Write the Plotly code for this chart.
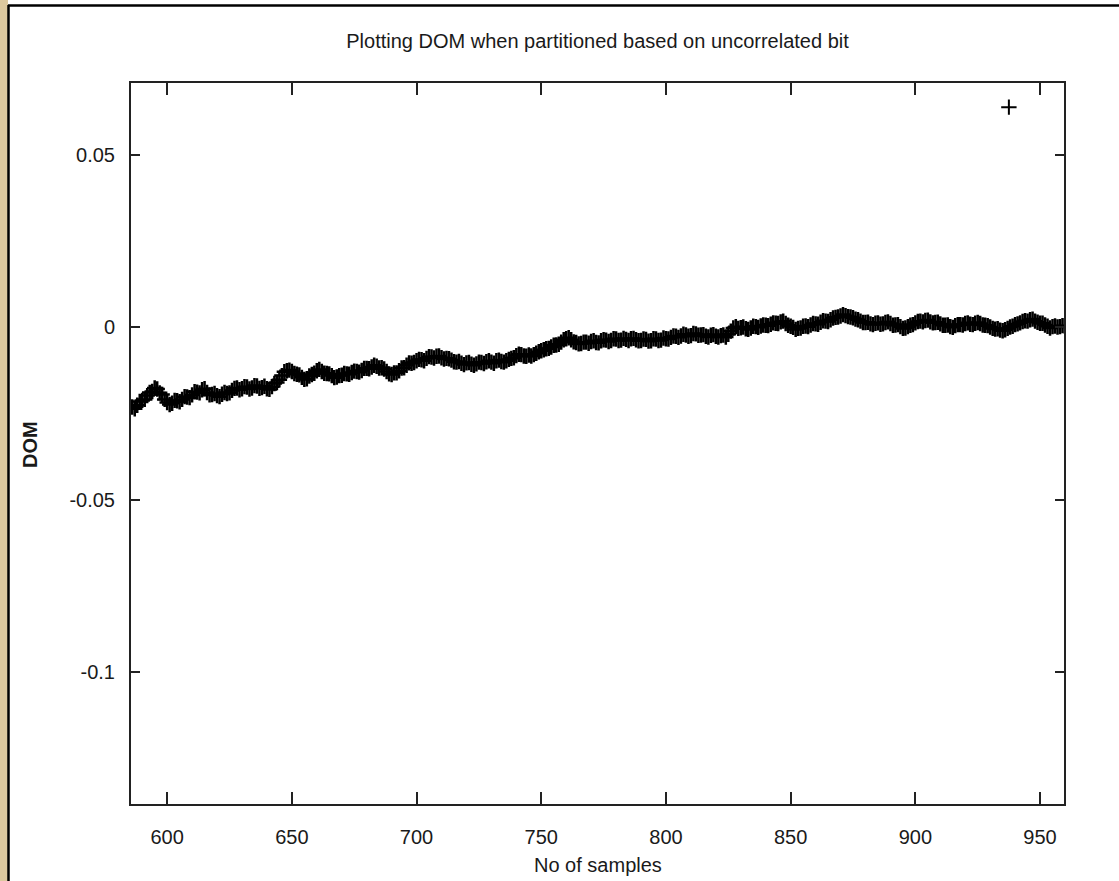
import plotly.graph_objects as go

# ---- data ----
samples = list(range(586, 961))
dom = [
    -0.0231, -0.0236, -0.0226, -0.0215, -0.0212, -0.0209, -0.0198, -0.0189, -0.0186, -0.0176,
    -0.0179, -0.0190, -0.0195, -0.0209, -0.0218, -0.0224, -0.0220, -0.0212, -0.0213, -0.0216,
    -0.0209, -0.0201, -0.0202, -0.0204, -0.0196, -0.0187, -0.0188, -0.0190, -0.0181, -0.0178,
    -0.0189, -0.0196, -0.0195, -0.0192, -0.0198, -0.0201, -0.0194, -0.0189, -0.0192, -0.0190,
    -0.0183, -0.0177, -0.0176, -0.0181, -0.0178, -0.0172, -0.0173, -0.0179, -0.0176, -0.0169,
    -0.0170, -0.0177, -0.0175, -0.0171, -0.0178, -0.0180, -0.0172, -0.0163, -0.0160, -0.0152,
    -0.0140, -0.0129, -0.0126, -0.0124, -0.0128, -0.0134, -0.0136, -0.0138, -0.0145, -0.0151,
    -0.0149, -0.0141, -0.0137, -0.0133, -0.0126, -0.0122, -0.0128, -0.0133, -0.0134, -0.0135,
    -0.0140, -0.0146, -0.0144, -0.0140, -0.0139, -0.0134, -0.0135, -0.0136, -0.0131, -0.0127,
    -0.0128, -0.0130, -0.0125, -0.0119, -0.0119, -0.0120, -0.0115, -0.0110, -0.0113, -0.0118,
    -0.0117, -0.0121, -0.0128, -0.0135, -0.0137, -0.0132, -0.0132, -0.0126, -0.0118, -0.0117,
    -0.0110, -0.0103, -0.0104, -0.0102, -0.0097, -0.0093, -0.0094, -0.0097, -0.0090, -0.0085,
    -0.0086, -0.0089, -0.0084, -0.0083, -0.0088, -0.0092, -0.0090, -0.0091, -0.0095, -0.0100,
    -0.0101, -0.0099, -0.0104, -0.0108, -0.0103, -0.0102, -0.0107, -0.0110, -0.0106, -0.0101,
    -0.0102, -0.0105, -0.0100, -0.0097, -0.0101, -0.0104, -0.0097, -0.0095, -0.0099, -0.0101,
    -0.0097, -0.0093, -0.0090, -0.0088, -0.0082, -0.0078, -0.0079, -0.0083, -0.0084, -0.0080,
    -0.0083, -0.0079, -0.0075, -0.0071, -0.0068, -0.0065, -0.0062, -0.0061, -0.0057, -0.0052,
    -0.0051, -0.0049, -0.0043, -0.0036, -0.0033, -0.0030, -0.0036, -0.0042, -0.0044, -0.0048,
    -0.0047, -0.0043, -0.0043, -0.0046, -0.0041, -0.0039, -0.0044, -0.0045, -0.0039, -0.0036,
    -0.0037, -0.0041, -0.0038, -0.0033, -0.0034, -0.0038, -0.0037, -0.0032, -0.0035, -0.0038,
    -0.0033, -0.0032, -0.0036, -0.0039, -0.0038, -0.0034, -0.0035, -0.0040, -0.0039, -0.0033,
    -0.0034, -0.0038, -0.0037, -0.0031, -0.0033, -0.0034, -0.0029, -0.0025, -0.0026, -0.0029,
    -0.0025, -0.0020, -0.0022, -0.0026, -0.0024, -0.0018, -0.0019, -0.0023, -0.0022, -0.0021,
    -0.0026, -0.0028, -0.0023, -0.0021, -0.0026, -0.0028, -0.0024, -0.0022, -0.0028, -0.0020,
    -0.0011, -0.0002, 0.0002, -0.0003, -0.0001, 0.0001, -0.0004, -0.0006, -0.0002, 0.0003,
    0.0002, 0.0000, 0.0004, 0.0007, 0.0006, 0.0005, 0.0009, 0.0013, 0.0012, 0.0011,
    0.0016, 0.0018, 0.0011, 0.0006, 0.0003, 0.0000, -0.0006, -0.0003, -0.0002, 0.0003,
    0.0004, 0.0002, 0.0007, 0.0011, 0.0010, 0.0009, 0.0015, 0.0019, 0.0018, 0.0017,
    0.0022, 0.0027, 0.0029, 0.0030, 0.0033, 0.0037, 0.0034, 0.0031, 0.0030, 0.0028,
    0.0024, 0.0022, 0.0018, 0.0014, 0.0014, 0.0015, 0.0010, 0.0008, 0.0012, 0.0013,
    0.0009, 0.0010, 0.0014, 0.0016, 0.0011, 0.0006, 0.0007, 0.0008, 0.0002, -0.0003,
    -0.0002, 0.0002, 0.0006, 0.0008, 0.0013, 0.0017, 0.0018, 0.0016, 0.0020, 0.0021,
    0.0016, 0.0013, 0.0014, 0.0015, 0.0010, 0.0006, 0.0006, 0.0007, 0.0002, 0.0000,
    0.0005, 0.0008, 0.0008, 0.0007, 0.0011, 0.0013, 0.0009, 0.0008, 0.0012, 0.0014,
    0.0011, 0.0007, 0.0006, 0.0005, 0.0001, -0.0003, -0.0005, -0.0004, -0.0008, -0.0010,
    -0.0007, -0.0003, 0.0001, 0.0003, 0.0008, 0.0010, 0.0013, 0.0017, 0.0019, 0.0018,
    0.0022, 0.0024, 0.0018, 0.0015, 0.0012, 0.0012, 0.0007, 0.0003, -0.0002, 0.0002,
    0.0004, 0.0001, 0.0002, 0.0005, 0.0003,
]
outlier_x = [937.5]
outlier_y = [0.0639]

x_ticks = [600, 650, 700, 750, 800, 850, 900, 950]
y_ticks = [0.05, 0, -0.05, -0.1]
y_tick_text = ["0.05", "0", "-0.05", "-0.1"]

title_text = "Plotting DOM when partitioned based on uncorrelated bit"
x_title = "No of samples"
y_title = "<b>DOM</b>"

FONT = "Liberation Sans, Arial, sans-serif"
TXT = "#1a1a1a"

fig = go.Figure()
fig.add_trace(go.Scatter(x=samples, y=dom, mode="markers",
                         marker=dict(symbol="cross-thin", size=11, color="black",
                                     line=dict(color="black", width=2.5)),
                         showlegend=False, cliponaxis=True))
fig.add_trace(go.Scatter(x=outlier_x, y=outlier_y, mode="markers",
                         marker=dict(symbol="cross-thin", size=11, color="black",
                                     line=dict(color="black", width=2)),
                         showlegend=False))

W, H = 1119, 881
L, R, T, B = 131, 1064, 83, 804
pw, ph = R - L, B - T


def px(xp):
    return (xp - L) / pw


def py(yp):
    return (B - yp) / ph


fig.update_layout(
    width=W, height=H,
    margin=dict(l=L, r=W - R, t=T, b=H - B, pad=0),
    paper_bgcolor="white", plot_bgcolor="white",
    font=dict(family=FONT, size=20, color=TXT),
    title=dict(text=title_text, x=px((L + R) / 2), xref="paper", xanchor="center",
               y=1 - 41 / H, yref="container", yanchor="middle",
               font=dict(family=FONT, size=20, color=TXT)),
    showlegend=False,
)
fig.update_xaxes(range=[585.5, 959.6], tickvals=x_ticks, ticks="inside", ticklen=12,
                 tickwidth=2, tickcolor="#222", showline=True, linewidth=2, linecolor="#222",
                 mirror="ticks", showgrid=False, zeroline=False, ticklabelstandoff=14,
                 tickfont=dict(family=FONT, size=20, color=TXT))
fig.update_yaxes(range=[-0.1383, 0.0709], tickvals=y_ticks, ticktext=y_tick_text,
                 ticks="inside", ticklen=9, tickwidth=2, tickcolor="#222", showline=True,
                 linewidth=2, linecolor="#222", mirror="ticks", showgrid=False,
                 zeroline=False, ticklabelstandoff=10,
                 tickfont=dict(family=FONT, size=20, color=TXT))

fig.add_annotation(text=x_title, xref="paper", yref="paper", x=px((L + R) / 2), y=py(865),
                   xanchor="center", yanchor="middle", showarrow=False,
                   font=dict(family=FONT, size=20, color=TXT))
fig.add_annotation(text=y_title, xref="paper", yref="paper", x=px(30), y=py(445),
                   xanchor="center", yanchor="middle", showarrow=False, textangle=-90,
                   font=dict(family=FONT, size=20, color=TXT))

# slide frame: beige strip on the left and black border lines
fig.add_shape(type="rect", xref="paper", yref="paper", x0=px(0), x1=px(8), y0=py(H), y1=py(0),
              fillcolor="#DCC89E", line=dict(width=0), layer="below")
fig.add_shape(type="line", xref="paper", yref="paper", x0=px(8.5), x1=px(8.5), y0=py(5), y1=py(H),
              line=dict(color="black", width=2.5))
fig.add_shape(type="line", xref="paper", yref="paper", x0=px(8), x1=px(W), y0=py(5.5), y1=py(5.5),
              line=dict(color="black", width=2.5))

fig.write_html("out.html")
